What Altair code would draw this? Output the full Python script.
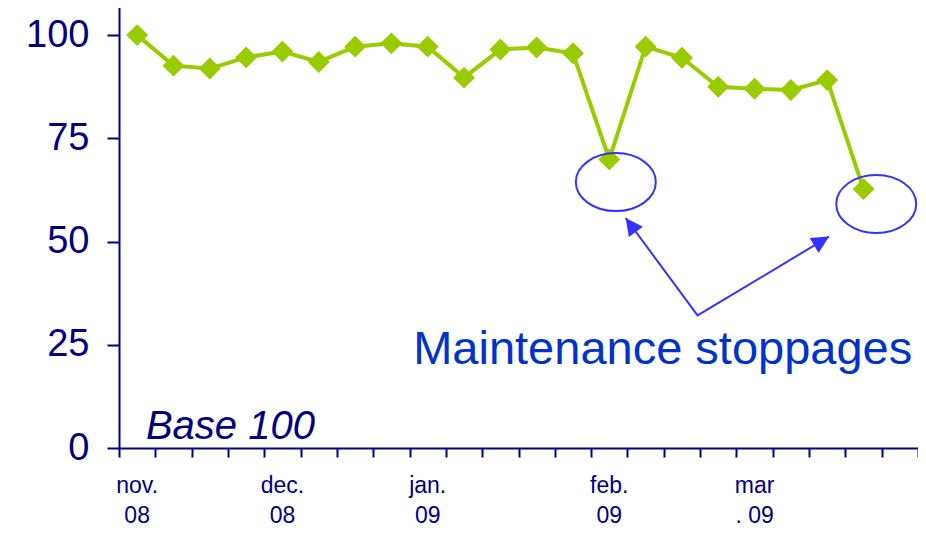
import altair as alt
import pandas as pd

# ---- data ----
values = [100, 92.6, 91.9, 94.6, 96.0, 93.5, 97.2, 98.0, 97.2, 89.7,
          96.5, 97.0, 95.6, 69.9, 97.2, 94.5, 87.5, 87.0, 86.7, 89.1, 62.7]
n_slots = 22  # weekly slots on the x axis (last one empty)
month_labels = ["nov.\n08", "dec.\n08", "jan.\n09", "feb.\n09", "mar\n. 09"]
month_slots = [0, 4, 8, 13, 17]
y_ticks = [0, 25, 50, 75, 100]
y_max = 108.5

# annotation anchors (data units)
ellipse_x = [13.68, 20.85]
ellipse_y = [64.4, 59.1]
arrow_path_x = [13.95, 15.93, 19.55]
arrow_path_y = [55.7, 32.1, 51.2]
arrow_tip_x = [13.95, 19.55]
arrow_tip_y = [55.7, 51.2]
arrow_angle = [323.7, 59.0]

NAVY = "#000080"
GREEN = "#99cc00"
BLUE = "#3333ff"
TEXTBLUE = "#0033cc"

df = pd.DataFrame({"x": [i + 0.5 for i in range(len(values))], "y": values})
months = pd.DataFrame({"x": [s + 0.5 for s in month_slots], "label": month_labels, "y": [-10.8] * len(month_slots)})
ell = pd.DataFrame({"x": ellipse_x, "y": ellipse_y})
arr = pd.DataFrame({"x": arrow_path_x, "y": arrow_path_y, "o": [0, 1, 2]})
tips = pd.DataFrame({"x": arrow_tip_x, "y": arrow_tip_y, "a": arrow_angle})
notes = pd.DataFrame({"x": [8.1, 0.74], "y": [20.4, 2.3], "t": ["Maintenance stoppages", "Base 100"]})

xs = alt.Scale(domain=[0, n_slots], nice=False, zero=False)
ys = alt.Scale(domain=[0, y_max], nice=False)

x_axis = alt.Axis(
    values=list(range(n_slots + 1)), tickCount=n_slots + 1, labels=False, title=None, grid=False,
    labelOverlap=False, domainColor=NAVY, domainWidth=2, tickColor=NAVY, tickWidth=2, tickSize=9)
y_axis = alt.Axis(
    values=y_ticks, title=None, grid=False, domainColor=NAVY, domainWidth=2,
    tickColor=NAVY, tickWidth=2, tickSize=12, labelColor=NAVY, labelFontSize=38,
    labelFont="Liberation Sans", labelPadding=18)

X = alt.X("x:Q", scale=xs, axis=x_axis)
Y = alt.Y("y:Q", scale=ys, axis=y_axis)

base = alt.Chart(df)
line = base.mark_line(color=GREEN, strokeWidth=4).encode(x=X, y=Y)
pts = base.mark_point(shape="diamond", filled=True, color=GREEN, size=480, opacity=1).encode(x=X, y=Y)

mlab = alt.Chart(months).mark_text(
    font="Liberation Sans", fontSize=23, color=NAVY, align="center", baseline="alphabetic",
    lineBreak="\n", lineHeight=30).encode(x=X, y=Y, text="label:N")

ellipses = alt.Chart(ell).mark_point(
    shape="M -1 0 A 1 0.725 0 1 0 1 0 A 1 0.725 0 1 0 -1 0 Z",
    size=6400, filled=False, stroke=BLUE, strokeWidth=2, opacity=1).encode(x=X, y=Y)

shafts = alt.Chart(arr).mark_line(color=BLUE, strokeWidth=2).encode(x=X, y=Y, order="o:Q")
heads = alt.Chart(tips).mark_point(
    shape="M 0 0 L 0.5 1 L -0.5 1 Z", size=1200, filled=True, color=BLUE, opacity=1).encode(
    x=X, y=Y, angle=alt.Angle("a:Q", scale=None))

note1 = alt.Chart(notes.iloc[[0]]).mark_text(
    font="Liberation Sans", fontSize=47, color=TEXTBLUE, align="left", baseline="alphabetic").encode(
    x=X, y=Y, text="t:N")
note2 = alt.Chart(notes.iloc[[1]]).mark_text(
    font="Liberation Sans", fontSize=40, fontStyle="italic", color=NAVY, align="left", baseline="alphabetic").encode(
    x=X, y=Y, text="t:N")

chart = alt.layer(line, pts, ellipses, shafts, heads, note1, note2, mlab).properties(
    width=799, height=448,
    autosize=alt.AutoSizeParams(type="none"),
    padding={"left": 111, "top": -8, "right": 0, "bottom": 80},
    background="white",
).configure_view(stroke=None)

chart.save("out.html", embed_options={"renderer": "svg", "actions": False})
